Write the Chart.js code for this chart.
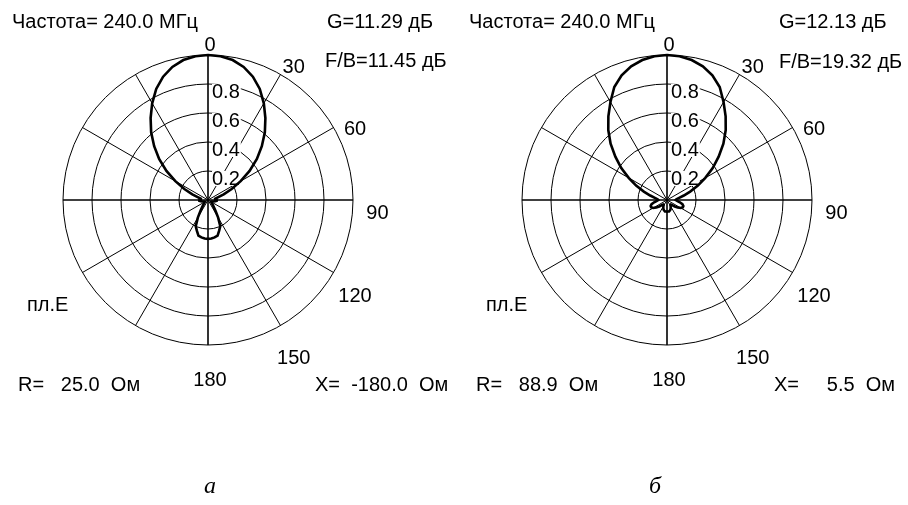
<!DOCTYPE html>
<html>
<head>
<meta charset="utf-8">
<script src="https://cdn.jsdelivr.net/npm/chart.js@4"></script>
<style>
  html, body { margin: 0; padding: 0; background: #fff; }
  #wrap { position: relative; width: 908px; height: 505px; overflow: hidden; }
  .pane { position: absolute; top: 0; width: 454px; height: 505px; }
</style>
</head>
<body>
<div id="wrap">
  <div class="pane" style="left:0"><canvas id="chartA" width="454" height="505"></canvas></div>
  <div class="pane" style="left:454px"><canvas id="chartB" width="454" height="505"></canvas></div>
</div>
<script>
// Azimuth directions, degrees (clockwise from the top), 5-degree step
const azimuths = [
  0, 5, 10, 15, 20, 25, 30, 35, 40, 45, 50, 55, 60, 65, 70, 75, 80, 85,
  90, 95, 100, 105, 110, 115, 120, 125, 130, 135, 140, 145, 150, 155, 160, 165, 170, 175,
  180, 185, 190, 195, 200, 205, 210, 215, 220, 225, 230, 235, 240, 245, 250, 255, 260, 265,
  270, 275, 280, 285, 290, 295, 300, 305, 310, 315, 320, 325, 330, 335, 340, 345, 350, 355
];

// Normalised E-plane field pattern, variant "а"
const patternA = [
  1.00, 0.995, 0.98, 0.95, 0.905, 0.845, 0.77, 0.69, 0.61, 0.525, 0.44, 0.35, 0.26, 0.18, 0.115, 0.07, 0.05, 0.05,
  0.06, 0.06, 0.05, 0.04, 0.03, 0.025, 0.025, 0.03, 0.035, 0.045, 0.06, 0.09, 0.14, 0.20, 0.225, 0.255, 0.262, 0.267,
  0.268, 0.267, 0.262, 0.255, 0.225, 0.20, 0.14, 0.09, 0.06, 0.045, 0.035, 0.03, 0.025, 0.025, 0.03, 0.04, 0.05, 0.06,
  0.06, 0.05, 0.05, 0.07, 0.115, 0.18, 0.26, 0.35, 0.44, 0.525, 0.61, 0.69, 0.77, 0.845, 0.905, 0.95, 0.98, 0.995
];

// Normalised E-plane field pattern, variant "б"
const patternB = [
  1.00, 0.995, 0.98, 0.955, 0.915, 0.86, 0.78, 0.705, 0.63, 0.55, 0.465, 0.385, 0.305, 0.235, 0.17, 0.12, 0.085, 0.065,
  0.06, 0.07, 0.09, 0.11, 0.12, 0.12, 0.11, 0.09, 0.07, 0.05, 0.04, 0.04, 0.05, 0.06, 0.07, 0.075, 0.08, 0.08,
  0.08, 0.08, 0.08, 0.075, 0.07, 0.06, 0.05, 0.04, 0.04, 0.05, 0.07, 0.09, 0.11, 0.12, 0.12, 0.11, 0.09, 0.07,
  0.06, 0.065, 0.085, 0.12, 0.17, 0.235, 0.305, 0.385, 0.465, 0.55, 0.63, 0.705, 0.78, 0.86, 0.915, 0.955, 0.98, 0.995
];

// Labelled directions and labelled rings
const angleTicks = [0, 30, 60, 90, 120, 150, 180];
const ringTicks = [0.2, 0.4, 0.6, 0.8];

// Readouts shown around each diagram
const freqText = 'Частота= 240.0 МГц';
const gainA = 'G=11.29 дБ', fbA = 'F/B=11.45 дБ', rA = 'R=   25.0  Ом', xA = 'X=  -180.0  Ом';
const gainB = 'G=12.13 дБ', fbB = 'F/B=19.32 дБ', rB = 'R=   88.9  Ом', xB = 'X=     5.5  Ом';
const planeText = 'пл.E';

const UI_FONT = '20px "Liberation Sans", Arial, sans-serif';
const CAPTION_FONT = 'italic 24px "Liberation Serif", "Times New Roman", serif';

// Draws ring values, direction numbers and readouts on the diagram canvas
const polarText = {
  id: 'polarText',
  beforeDatasetsDraw(chart) {
    const s = chart.scales.r;
    const ctx = chart.ctx;
    ctx.save();
    ctx.font = UI_FONT;
    ctx.textAlign = 'left';
    ctx.textBaseline = 'top';
    ringTicks.forEach(v => {
      const d = s.getDistanceFromCenterForValue(v);
      const t = v.toFixed(1);
      const w = ctx.measureText(t).width;
      const x = s.xCenter + 4, y = s.yCenter - d - 1;
      ctx.fillStyle = '#fff';
      ctx.fillRect(x, y + 1, w + 1, 15);
      ctx.fillStyle = '#000';
      ctx.fillText(t, x, y - 1);
    });
    ctx.restore();
  },
  afterDraw(chart, args, opts) {
    const s = chart.scales.r;
    const ctx = chart.ctx;
    ctx.save();
    ctx.fillStyle = '#000';
    ctx.font = UI_FONT;
    ctx.textAlign = 'center';
    ctx.textBaseline = 'middle';
    angleTicks.forEach(a => {
      const p = s.getPointPosition(azimuths.indexOf(a), s.drawingArea * 1.155);
      ctx.fillText(String(a), p.x + 2, p.y + 13);
    });
    (opts.items || []).forEach(it => {
      ctx.font = it.font || UI_FONT;
      ctx.textAlign = it.align || 'left';
      ctx.fillText(it.text, it.x, it.y);
    });
    ctx.restore();
  }
};

function makeDiagram(canvasId, values, padding, items) {
  return new Chart(document.getElementById(canvasId), {
    type: 'radar',
    data: {
      labels: azimuths,
      datasets: [{
        data: values,
        borderColor: '#000',
        borderWidth: 2.6,
        pointRadius: 0,
        fill: false,
        tension: 0
      }]
    },
    options: {
      responsive: false,
      animation: false,
      layout: { padding },
      plugins: {
        legend: { display: false },
        tooltip: { enabled: false },
        polarText: { items }
      },
      scales: {
        r: {
          min: 0,
          max: 1,
          startAngle: 0,
          ticks: { display: false, stepSize: 0.2 },
          pointLabels: { display: false },
          grid: { circular: true, color: '#000', lineWidth: 1 },
          angleLines: {
            display: true,
            color: ctx => (ctx.index % 6 === 0 ? '#000' : 'rgba(0,0,0,0)'),
            lineWidth: ctx => (ctx.index % 18 === 0 ? 1.6 : 1)
          }
        }
      }
    },
    plugins: [polarText]
  });
}

makeDiagram('chartA', patternA,
  { left: 63, right: 101, top: 55, bottom: 160 },
  [
    { text: freqText, x: 12, y: 22 },
    { text: gainA, x: 327, y: 22 },
    { text: fbA, x: 325, y: 61 },
    { text: planeText, x: 27, y: 305 },
    { text: rA, x: 18, y: 385 },
    { text: xA, x: 315, y: 385 },
    { text: 'а', x: 210, y: 487, align: 'center', font: CAPTION_FONT }
  ]);

makeDiagram('chartB', patternB,
  { left: 68, right: 96, top: 55, bottom: 160 },
  [
    { text: freqText, x: 15, y: 22 },
    { text: gainB, x: 325, y: 22 },
    { text: fbB, x: 325, y: 62 },
    { text: planeText, x: 32, y: 305 },
    { text: rB, x: 22, y: 385 },
    { text: xB, x: 320, y: 385 },
    { text: 'б', x: 201, y: 487, align: 'center', font: CAPTION_FONT }
  ]);
</script>
</body>
</html>
